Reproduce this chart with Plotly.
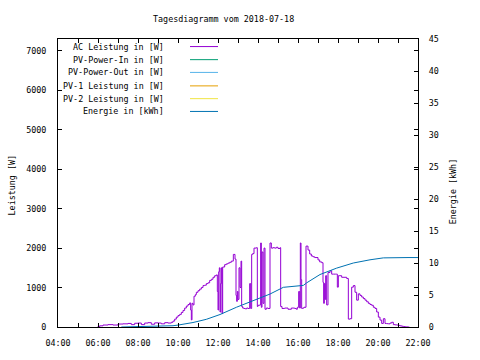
import plotly.graph_objects as go

DAY = "2018-07-18"

ac_time = ["05:58","06:05","06:15","06:30","06:45","07:00","07:15","07:30","07:40","07:50",
           "08:00","08:10","08:20","08:30","08:40","08:50","09:00","09:10","09:20","09:30",
           "09:40","09:45","09:50","09:55","10:00","10:05","10:10","10:15","10:20","10:25",
           "10:30","10:35","10:38","10:40","10:42","10:45","10:48","10:52","10:55","11:00",
           "11:05","11:10","11:15","11:20","11:25","11:30","11:35","11:40","11:45","11:50",
           "11:55","11:58","12:00","12:02","12:04","12:06","12:08","12:10","12:12","12:14",
           "12:20","12:25","12:30","12:35","12:40","12:46","12:51","12:54","12:56","12:58",
           "13:00","13:03","13:06","13:09","13:11","13:14","13:18","13:22","13:26","13:30",
           "13:35","13:38","13:41","13:44","13:48","13:55","13:58","14:00","14:05","14:08",
           "14:10","14:12","14:15","14:18","14:21","14:25","14:30","14:36","14:40","14:45",
           "14:50","14:55","15:00","15:06","15:08","15:12","15:20","15:30","15:40","15:50",
           "15:55","15:58","16:02","16:05","16:07","16:09","16:11","16:14","16:18","16:24",
           "16:30","16:35","16:40","16:45","16:50","17:00","17:05","17:11","17:15","17:17",
           "17:19","17:21","17:23","17:26","17:30","17:36","17:41","17:46","17:52","17:56",
           "17:58","18:01","18:06","18:11","18:18","18:26","18:31","18:36","18:41","18:46",
           "18:51","18:56","19:01","19:06","19:11","19:16","19:21","19:26","19:31","19:36",
           "19:41","19:46","19:51","19:56","20:01","20:06","20:11","20:16","20:21","20:26",
           "20:31","20:36","20:41","20:46","20:51","20:56","21:01","21:06","21:11","21:16",
           "21:21","21:26","21:31","21:34"]
ac_power = [0,30,50,60,50,75,80,90,60,95,
            100,60,100,110,70,105,100,80,110,100,
            120,150,200,250,290,320,370,420,480,530,
            570,610,430,180,600,560,780,820,880,920,
            960,1000,1050,1060,1100,1120,1180,1210,1260,1300,
            1320,900,430,1400,1500,380,1100,1500,340,1520,
            1580,1600,1620,1640,1670,1840,1720,800,650,900,
            700,1500,1000,1670,520,480,470,460,480,470,
            1100,470,1840,1860,2000,2010,520,550,560,2130,
            500,1900,600,2000,450,480,470,2130,2000,2010,
            2000,2020,1990,2010,520,470,480,450,480,470,
            450,500,900,480,2130,1200,470,480,500,2050,
            1950,1850,1800,1780,1760,1700,1650,1630,1130,600,
            1100,700,1300,560,1380,1425,1340,1340,1340,1340,
            1010,1300,1300,1260,1260,1230,200,210,1010,1050,
            880,680,840,800,760,720,680,640,600,570,
            550,500,470,380,250,175,90,210,90,85,
            80,100,120,60,55,50,40,30,20,10,
            5,2,0,0]

pv_in_time, pv_in_power = [], []
pv_out_time, pv_out_power = [], []
pv1_time, pv1_power = [], []
pv2_time, pv2_power = [], []

en_time = ["07:10","08:45","09:45","10:00","10:45","11:25","12:06","12:56","13:46",
           "14:36","15:16","16:16","16:26","17:06","17:56","18:46","19:36","20:16","21:30","22:00"]
en_kwh = [0.0,0.1,0.2,0.3,0.7,1.2,1.95,3.1,4.1,
          5.15,6.2,6.5,6.9,8.2,9.2,10.0,10.5,10.8,10.85,10.85]

y_ticks = [0,1000,2000,3000,4000,5000,6000,7000]
y2_ticks = [0,5,10,15,20,25,30,35,40,45]

names = ["AC Leistung in [W]", "PV-Power-In in [W]", "PV-Power-Out in [W]",
         "PV-1 Leistung in [W]", "PV-2 Leistung in [W]", "Energie in [kWh]"]
colors = ["#9400d3", "#009e73", "#56b4e9", "#e69f00", "#f0e442", "#0072b2"]

def ts(lst):
    return [f"{DAY} {t}" for t in lst]

FONT = "DejaVu Sans Mono"
fs = 8.4

fig = go.Figure()
series = [(ac_time, ac_power, "y", "hv"), (pv_in_time, pv_in_power, "y", "hv"),
          (pv_out_time, pv_out_power, "y", "hv"), (pv1_time, pv1_power, "y", "hv"),
          (pv2_time, pv2_power, "y", "hv"), (en_time, en_kwh, "y2", "linear")]
for (t, v, ax, shp), n, c in zip(series, names, colors):
    fig.add_trace(go.Scatter(x=ts(t), y=v, name=n, mode="lines", yaxis=ax,
                             line=dict(color=c, width=1, shape=shp),
                             showlegend=False))

L, R, T, B = 58, 62, 39, 28
W, H = 480, 360
pw, ph = W - L - R, H - T - B

def px(x):
    return (x - L) / pw
def py(y):
    return (H - B - y) / ph

annotations = []
shapes = []
rows_y = [46.7, 60, 73, 86.7, 99.7, 112.7]
for n, c, yy in zip(names, colors, rows_y):
    annotations.append(dict(x=px(166), y=py(yy), xref="paper", yref="paper",
                            text=n, showarrow=False, xanchor="right", yanchor="middle",
                            font=dict(family=FONT, size=fs, color="black")))
    shapes.append(dict(type="line", xref="paper", yref="paper",
                       x0=px(190), x1=px(218), y0=py(yy), y1=py(yy),
                       line=dict(color=c, width=1)))

annotations.append(dict(x=px(223.5), y=py(18.3), xref="paper", yref="paper",
                        text="Tagesdiagramm vom 2018-07-18", showarrow=False,
                        xanchor="center", yanchor="middle",
                        font=dict(family=FONT, size=fs, color="black")))
annotations.append(dict(x=px(12), y=py(188), xref="paper", yref="paper",
                        text="Leistung [W]", showarrow=False, textangle=-90,
                        xanchor="center", yanchor="middle",
                        font=dict(family=FONT, size=fs, color="black")))
annotations.append(dict(x=px(453), y=py(194), xref="paper", yref="paper",
                        text="Energie [kWh]", showarrow=False, textangle=-90,
                        xanchor="center", yanchor="middle",
                        font=dict(family=FONT, size=fs, color="black")))

fig.update_layout(
    width=W, height=H,
    margin=dict(l=L, r=R, t=T, b=B, pad=0),
    paper_bgcolor="white", plot_bgcolor="white",
    font=dict(family=FONT, size=fs, color="black"),
    showlegend=False,
    annotations=annotations, shapes=shapes,
    xaxis=dict(type="date", range=[f"{DAY} 04:00", f"{DAY} 22:00"],
               dtick=2 * 3600 * 1000, tick0=f"{DAY} 00:00", tickformat="%H:%M",
               ticks="inside", ticklen=4, tickcolor="black", tickwidth=1,
               minor=dict(dtick=3600 * 1000, ticks="inside", ticklen=4, tickcolor="black"),
               showline=True, linecolor="black", linewidth=1, mirror="ticks",
               showgrid=False, zeroline=False, ticklabelstandoff=8),
    yaxis=dict(range=[0, 7300], tickvals=y_ticks,
               ticks="inside", ticklen=4, tickcolor="black",
               showline=True, linecolor="black", linewidth=1, mirror="ticks",
               showgrid=False, zeroline=False, ticklabelstandoff=9),
    yaxis2=dict(range=[0, 45], tickvals=y2_ticks, overlaying="y", side="right",
                ticks="inside", ticklen=4, tickcolor="black",
                showline=True, linecolor="black", linewidth=1,
                showgrid=False, zeroline=False, ticklabelstandoff=8),
)

fig.write_html("out.html", config={"displayModeBar": False, "staticPlot": True},
               post_script="document.body.style.margin='0';document.body.style.padding='0';")
